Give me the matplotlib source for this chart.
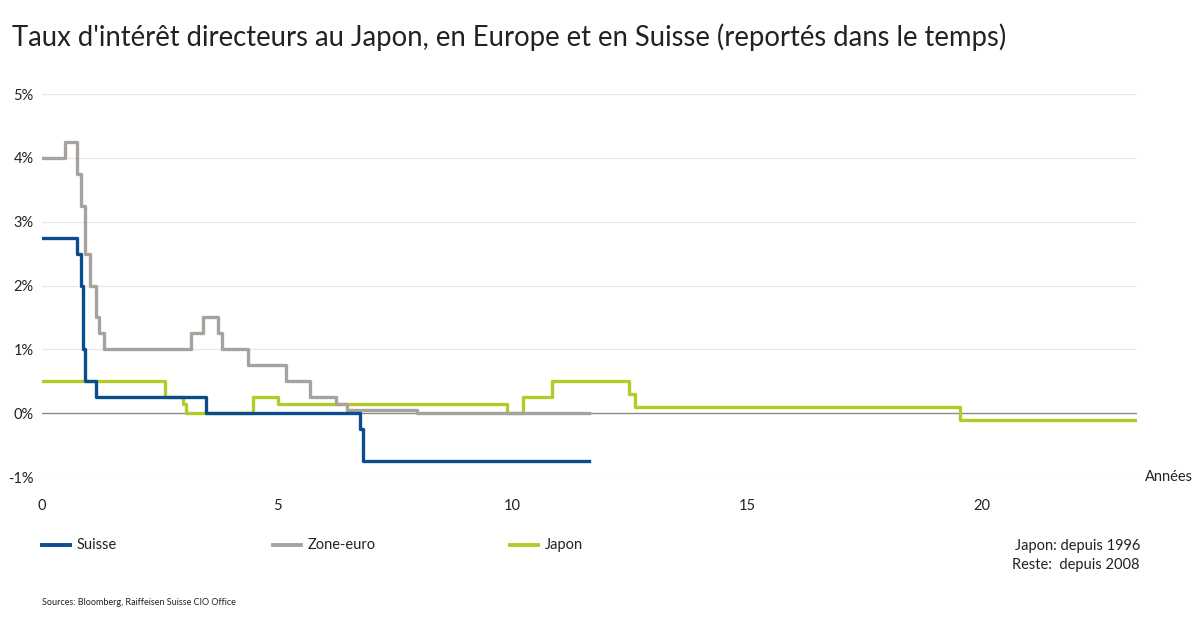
import matplotlib.pyplot as plt
from matplotlib.lines import Line2D

plt.rcParams['font.family'] = ['Lato', 'DejaVu Sans']

# taux directeurs (%), x = années depuis le début de la série
suisse_x = [0, 0.745, 0.82, 0.87, 0.91, 1.15, 3.49, 6.77, 6.83, 11.64]
suisse_y = [2.75, 2.5, 2.0, 1.0, 0.5, 0.25, 0.0, -0.25, -0.75, -0.75]

euro_x = [0, 0.49, 0.745, 0.83, 0.91, 1.02, 1.15, 1.21, 1.32, 3.17, 3.43,
          3.74, 3.83, 4.38, 5.19, 5.70, 6.26, 6.49, 7.98, 11.64]
euro_y = [4.0, 4.25, 3.75, 3.25, 2.5, 2.0, 1.5, 1.25, 1.0, 1.25, 1.5,
          1.25, 1.0, 0.75, 0.5, 0.25, 0.15, 0.05, 0.0, 0.0]

japon_x = [0, 2.62, 3.0, 3.06, 4.49, 5.02, 9.89, 10.23, 10.85, 12.49, 12.62,
           19.53, 23.3]
japon_y = [0.5, 0.25, 0.15, 0.0, 0.25, 0.15, 0.0, 0.25, 0.5, 0.3, 0.1,
           -0.1, -0.1]

x_ticks = [0, 5, 10, 15, 20]
y_ticks = [-1, 0, 1, 2, 3, 4, 5]

c_suisse = "#0b4d8c"
c_euro = "#a8a29e"
c_japon = "#b3cb26"

fig = plt.figure(figsize=(12, 6.28), dpi=100)
ax = fig.add_axes([0.035, 0.2404, 0.9125, 0.6099])

for v in y_ticks:
    if v == 0:
        ax.axhline(v, color="#8a8a8a", lw=1.0, zorder=1)
    else:
        ax.axhline(v, color="#e8e8e8", lw=0.9, zorder=0)

ax.step(japon_x, japon_y, where="post", color=c_japon, lw=2.4, zorder=2)
ax.step(euro_x, euro_y, where="post", color=c_euro, lw=2.4, zorder=3)
ax.step(suisse_x, suisse_y, where="post", color=c_suisse, lw=2.4, zorder=4)

ax.set_xlim(0, 23.3)
ax.set_ylim(-1, 5)
ax.set_xticks(x_ticks)
ax.set_xticklabels([str(t) for t in x_ticks])
ax.set_yticks(y_ticks)
ax.set_yticklabels([f"{t}%" for t in y_ticks])
ax.tick_params(length=0, labelsize=10.5, colors="#222222")
ax.tick_params(axis="x", pad=16)
ax.tick_params(axis="y", pad=6)
for s in ax.spines.values():
    s.set_visible(False)

ax.text(1.007, 0.0, "Années", transform=ax.transAxes, fontsize=10.5,
        ha="left", va="center", color="#222222")

fig.text(0.01, 0.94, "Taux d'intérêt directeurs au Japon, en Europe et en Suisse (reportés dans le temps)",
         fontsize=19.8, color="#222222", ha="left", va="center")

# légende dessinée à la main (trait + libellé)
legend_items = [("Suisse", c_suisse, 42), ("Zone-euro", c_euro, 273), ("Japon", c_japon, 510)]
for name, col, px in legend_items:
    x0 = px / 1200
    fig.add_artist(Line2D([x0, x0 + 28 / 1200], [0.132, 0.132], color=col, lw=2.8,
                          transform=fig.transFigure))
    fig.text(x0 + 35 / 1200, 0.132, name, fontsize=10.5, ha="left", va="center",
             color="#222222")

fig.text(0.95, 0.131, "Japon: depuis 1996", fontsize=10.5, ha="right", va="center",
         color="#222222")
fig.text(0.95, 0.101, "Reste:  depuis 2008", fontsize=10.5, ha="right", va="center",
         color="#222222")
fig.text(0.035, 0.041, "Sources: Bloomberg, Raiffeisen Suisse CIO Office", fontsize=6.5,
         ha="left", va="center", color="#222222")

fig.savefig("out.png", dpi=100)
